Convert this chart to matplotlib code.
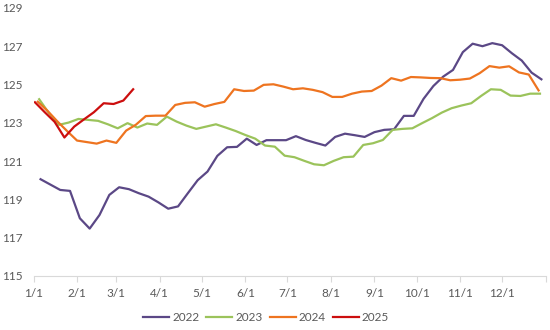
import numpy as np
import matplotlib
matplotlib.use("Agg")
from matplotlib import pyplot as plt

# weekly index values
start_2022 = 5   # day of year of first weekly point
vals_2022 = [120.05, 119.77, 119.49, 119.44, 118.01, 117.47, 118.18, 119.23, 119.63, 119.53,
             119.32, 119.14, 118.84, 118.51, 118.63, 119.32, 120.00, 120.45, 121.27, 121.72,
             121.74, 122.17, 121.84, 122.09, 122.09, 122.09, 122.30, 122.10, 121.95, 121.81,
             122.26, 122.43, 122.35, 122.26, 122.51, 122.63, 122.66, 123.36, 123.36, 124.25,
             124.92, 125.41, 125.76, 126.69, 127.13, 127.00, 127.16, 127.05, 126.63, 126.25,
             125.62, 125.27]

start_2023 = 4
vals_2023 = [124.23, 123.50, 122.89, 123.01, 123.20, 123.15, 123.10, 122.92, 122.71, 122.98,
             122.75, 122.96, 122.89, 123.32, 123.06, 122.85, 122.68, 122.80, 122.92, 122.75,
             122.57, 122.36, 122.17, 121.81, 121.75, 121.28, 121.20, 121.01, 120.83, 120.78,
             121.01, 121.20, 121.23, 121.84, 121.93, 122.10, 122.63, 122.68, 122.71, 122.98,
             123.24, 123.53, 123.76, 123.90, 124.02, 124.40, 124.75, 124.72, 124.42, 124.40,
             124.52, 124.52]

start_2024 = 3
vals_2024 = [124.10, 123.62, 123.07, 122.56, 122.07, 121.99, 121.91, 122.07, 121.95, 122.59,
             122.90, 123.35, 123.37, 123.37, 123.93, 124.04, 124.07, 123.84, 123.98, 124.09,
             124.75, 124.66, 124.68, 124.98, 125.01, 124.89, 124.75, 124.80, 124.72, 124.60,
             124.35, 124.35, 124.52, 124.63, 124.66, 124.94, 125.33, 125.20, 125.39, 125.37,
             125.34, 125.33, 125.22, 125.25, 125.31, 125.59, 125.96, 125.88, 125.95, 125.63,
             125.52, 124.69]

start_2025 = 1
vals_2025 = [124.07, 123.55, 123.05, 122.23, 122.80, 123.18, 123.55, 124.02, 123.98, 124.16,
             124.75]

years = ["2022", "2023", "2024", "2025"]
colors = ["#5B4886", "#9BC35B", "#EE7420", "#CC0E0E"]

month_days = [0, 31, 59, 90, 120, 151, 181, 212, 243, 273, 304, 334, 365]
month_labels = ["1/1", "2/1", "3/1", "4/1", "5/1", "6/1", "7/1", "8/1", "9/1",
                "10/1", "11/1", "12/1", ""]

plt.rcParams["font.family"] = ["Lato", "DejaVu Sans"]

fig = plt.figure(figsize=(5.5, 3.3), dpi=100)
ax = fig.add_axes([0.061, 0.164, 0.931, 0.812])

series = [(start_2022, vals_2022), (start_2023, vals_2023),
          (start_2024, vals_2024), (start_2025, vals_2025)]
for (start, vals), year, c in zip(series, years, colors):
    days = start + 7 * np.arange(len(vals))
    ax.plot(days, vals, color=c, lw=1.6, label=year, solid_joinstyle="round")

ax.set_xlim(0, 365)
ax.set_ylim(115, 129)
ax.set_yticks(np.arange(115, 130, 2))
ax.set_xticks(month_days)
ax.set_xticklabels(month_labels)

for side in ["top", "right", "left"]:
    ax.spines[side].set_visible(False)
ax.spines["bottom"].set_color("#D9D9D9")
ax.tick_params(axis="y", length=0, pad=8, labelsize=8.5, labelcolor="#595959")
ax.tick_params(axis="x", length=4, color="#D9D9D9", pad=5, labelsize=8.5,
               labelcolor="#595959")

fig.legend(loc="center", bbox_to_anchor=(0.484, 0.038), ncol=4, frameon=False,
           fontsize=8.5, handlelength=2.2, handletextpad=0.25, columnspacing=0.6,
           labelcolor="#595959")

fig.savefig("out.png", dpi=100)
